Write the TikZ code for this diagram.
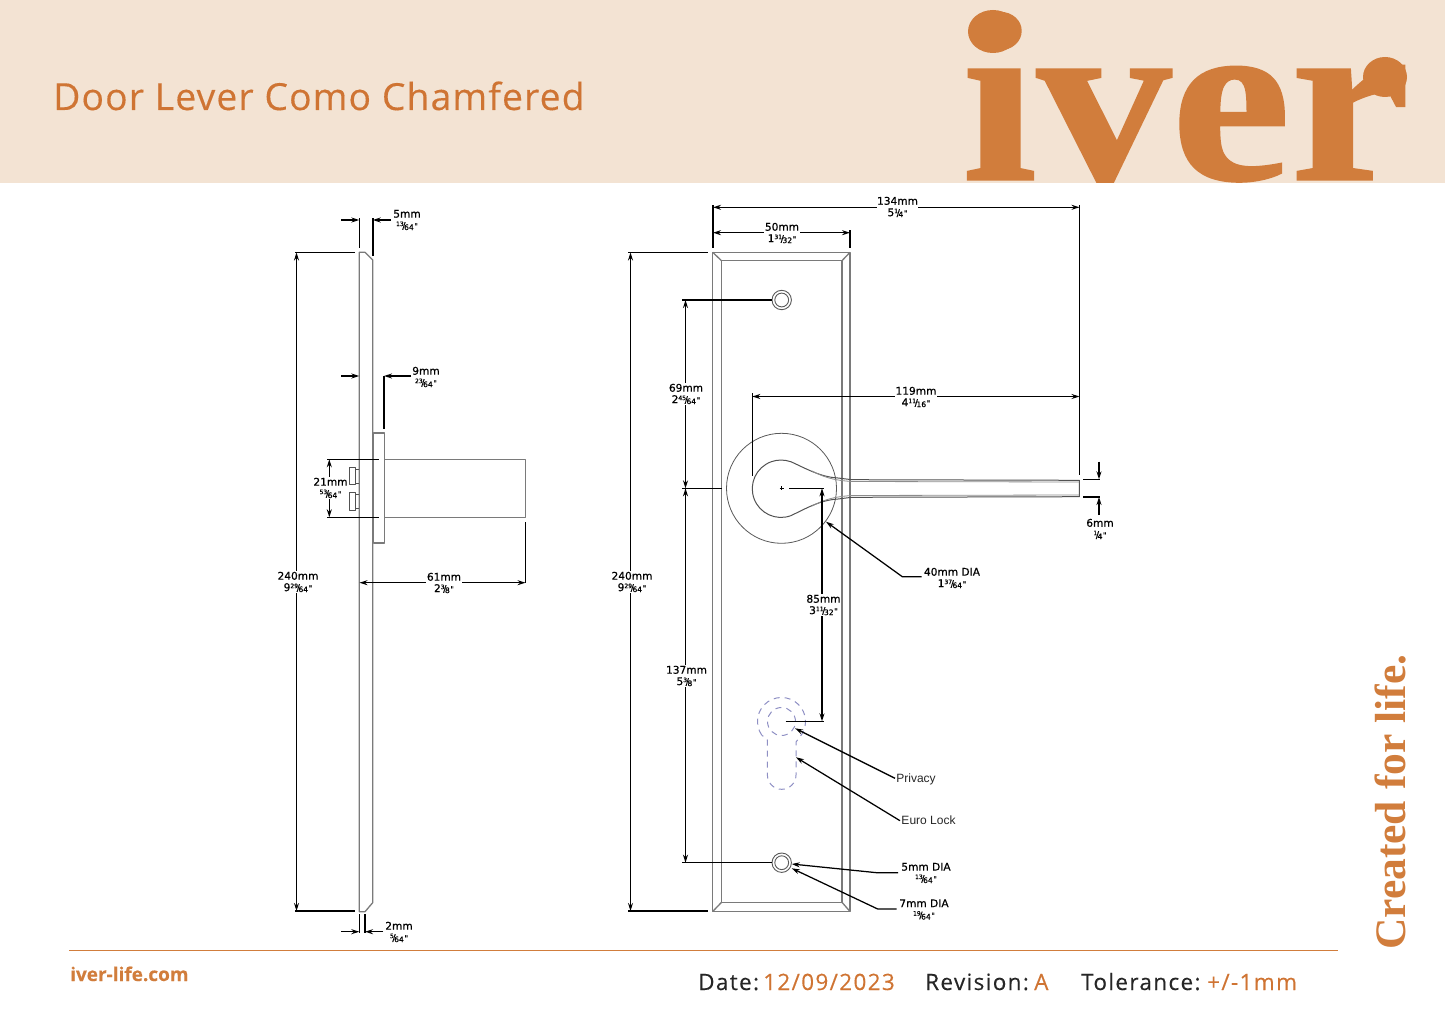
\documentclass[tikz,border=0pt]{standalone}
\usepackage{fontspec}
\usepackage{tikz}
\usetikzlibrary{arrows.meta}
\setmainfont{Open Sans}
\newfontfamily\dimf[FakeBold=0.7]{DejaVu Sans}
\newfontfamily\plainf{Liberation Sans}
\newfontfamily\logof[FakeBold=0.9]{Liberation Serif Bold}
\newfontfamily\tagf{Liberation Serif Bold}
\newfontfamily\titlef[LetterSpace=3,FakeBold=0.25]{Open Sans}
\newfontfamily\foot[LetterSpace=6,FakeBold=0.3]{Open Sans}
\newfontfamily\webf[FakeBold=0.3]{Open Sans Bold}
\definecolor{ivband}{HTML}{F3E3D3}
\definecolor{ivor}{HTML}{D17D3C}
\definecolor{ivtitle}{HTML}{CF7433}
\definecolor{euro}{HTML}{8F90C4}
\newcommand\fr[2]{\raisebox{3pt}{\fontsize{6}{6}\selectfont #1}\kern-1.4pt{\fontsize{9.5}{9.5}\selectfont/}\kern-1.4pt\raisebox{-1pt}{\fontsize{7.6}{7.6}\selectfont #2}}
\newcommand\inq{\kern.5pt{\fontsize{8}{8}\selectfont"}}
\tikzset{
  part/.style={draw=black!52,line width=1.3pt,line join=round},
  partdark/.style={draw=black!68,line width=1pt,line join=round},
  dimline/.style={draw=black,line width=1.25pt},
  dimarrow/.style={dimline,{Stealth[length=8pt,width=5pt]}-{Stealth[length=8pt,width=5pt]}},
  onearrow/.style={dimline,-{Stealth[length=8pt,width=5pt]}},
  extline/.style={draw=black,line width=1.25pt},
  lab/.style={font=\dimf\fontsize{10.6}{12.4}\selectfont,align=center,fill=white,inner sep=.5pt,text=black},
  labplain/.style={font=\plainf\fontsize{12}{14}\selectfont,inner sep=0pt,text=black!85},
  footk/.style={font=\foot\fontsize{22.5}{26}\selectfont,anchor=base west,inner sep=0pt,text=black!85},
  footv/.style={font=\foot\fontsize{22.5}{26}\selectfont,anchor=base west,inner sep=0pt,text=ivtitle},
}
\begin{document}
\begin{tikzpicture}[x=1pt,y=-1pt]
\useasboundingbox (0,0) rectangle (1445,1022);
% header
\fill[ivband] (0,0) rectangle (1445,183);
\node[anchor=base west,inner sep=0pt,text=ivtitle,font=\titlef\fontsize{37.3}{40}\selectfont] (title) at (53,110) {Door Lever Como Chamfered};
\node[anchor=base west,inner sep=0pt,text=ivor,font=\logof\fontsize{240}{240}\selectfont] (logo) at (962,179.5) {\scalebox{1.12}[1]{iver}};
\fill[ivor] (993,31.5) ellipse [x radius=25pt,y radius=21.5pt];
\fill[ivor] (1385,77) ellipse [x radius=22pt,y radius=20pt];
% side view
\draw[part] (359.3,252.3) -- (365,252.3) -- (372.7,260) -- (372.7,902.7) -- (365,911.7) -- (359.3,911.7) -- cycle;
\draw[part] (373.3,433) rectangle (384.3,543);
\draw[part] (384.3,459.3) -- (525.3,459.3) -- (525.3,517.3) -- (384.3,517.3);
\draw[partdark] (355.3,467.3) -- (349.3,467.3) -- (349.3,484.3) -- (355.3,484.3) -- cycle (355.3,469) -- (359.3,469) (355.3,483) -- (359.3,483);
\draw[partdark] (355.3,492.3) -- (349.3,492.3) -- (349.3,510) -- (355.3,510) -- cycle (355.3,494) -- (359.3,494) (355.3,508.5) -- (359.3,508.5);
% side dims
\coordinate (sa1) at (359.3,220); \coordinate (sa2) at (372.7,220);
\coordinate (sa1o) at (341,220); \coordinate (sa2o) at (391,220);
\draw[extline] (359.3,218) -- (359.3,248);
\draw[extline,line width=1.6pt] (372.7,218) -- (372.7,256);
\draw[onearrow] (sa1o) -- (sa1);
\draw[onearrow] (sa2o) -- (sa2);
\node[lab] (s5) at (407,220) {5mm\\[-1pt]\fr{13}{64}\inq};
\coordinate (sh1) at (296.5,252.5); \coordinate (sh2) at (296.5,911);
\draw[extline] (295,252.5) -- (355,252.5);
\draw[extline] (295,911) -- (355,911);
\draw[dimarrow] (sh1) -- (sh2);
\node[lab] (s240) at (298,582) {240mm\\[-1pt]9\fr{29}{64}\inq};
\coordinate (sb1) at (359.3,376); \coordinate (sb2) at (384,376);
\coordinate (sb1o) at (341,376); \coordinate (sb2o) at (411,376);
\draw[onearrow] (sb1o) -- (sb1);
\draw[extline] (384,376) -- (384,429);
\draw[onearrow] (sb2o) -- (sb2);
\node[lab] (s9) at (426,377) {9mm\\[-1pt]\fr{23}{64}\inq};
\coordinate (sc1) at (329.3,459.3); \coordinate (sc2) at (329.3,517.3);
\draw[extline] (327.3,459.3) -- (379,459.3);
\draw[extline] (327.3,517.3) -- (379,517.3);
\draw[dimarrow] (sc1) -- (sc2);
\node[lab] (s21) at (330.5,488) {21mm\\[-1pt]\fr{53}{64}\inq};
\coordinate (sd1) at (359.5,582.7); \coordinate (sd2) at (525.5,582.7);
\draw[extline] (525.5,522) -- (525.5,583);
\draw[dimarrow] (sd1) -- (sd2);
\node[lab] (s61) at (444,583) {61mm\\[-1pt]2\fr{3}{8}\inq};
\coordinate (se1) at (359.3,931.7); \coordinate (se2) at (365,931.7);
\coordinate (se1o) at (341,931.7); \coordinate (se2o) at (383,931.7);
\draw[extline] (359.3,914) -- (359.3,933);
\draw[extline] (365,914) -- (365,933);
\draw[onearrow] (se1o) -- (se1);
\draw[onearrow] (se2o) -- (se2);
\node[lab] (s2) at (399,932) {2mm\\[-1pt]\fr{5}{64}\inq};
% front view plate
\draw[part] (712.7,252.3) rectangle (850,911.5);
\draw[part] (721.5,260.7) rectangle (842,902.3);
\draw[part] (712.7,252.3) -- (721.5,260.7) (850,252.3) -- (842,260.7) (712.7,911.5) -- (721.5,902.3) (850,911.5) -- (842,902.3);
\node[draw=black!65,line width=.9pt,circle,minimum size=19.4pt,inner sep=0pt] (st) at (781.7,300) {};
\node[draw=black!65,line width=.9pt,circle,minimum size=13.8pt,inner sep=0pt] (sti) at (781.7,300) {};
\node[draw=black!65,line width=.9pt,circle,minimum size=19.4pt,inner sep=0pt] (sb) at (781.7,862.7) {};
\node[draw=black!65,line width=.9pt,circle,minimum size=13.8pt,inner sep=0pt] (sbi) at (781.7,862.7) {};
\node[draw=black!65,line width=.8pt,circle,minimum size=110pt,inner sep=0pt] (rose) at (781.5,488.3) {};
% lever
\draw[partdark] (790.8,461.7) .. controls (805,468) and (820,477) .. (838,478) -- (851.7,479.7) -- (1079.3,480.3) -- (1079.3,496.7) -- (851.7,497.3) -- (838,499) .. controls (820,500) and (805,509) .. (790.8,515.7) arc[start angle=290,end angle=70,radius=28.7pt];
\draw[draw=black!45,line width=.8pt] (812,471) .. controls (822,476) and (830,480) .. (851.7,481.5) -- (1079.3,482);
\draw[draw=black!45,line width=.8pt] (812,506) .. controls (822,501) and (830,497) .. (851.7,495.5) -- (1079.3,495);
\draw[black,line width=.5pt] (779.5,488.3) -- (783.5,488.3) (781.5,486.3) -- (781.5,490.3);
% euro outline
\draw[euro,line width=1pt,dash pattern=on 6pt off 5pt] (781.5,721.5) circle[radius=14pt];
\draw[euro,line width=1pt,dash pattern=on 6pt off 5pt] (761.6,734.9) arc[start angle=214,end angle=-40,radius=24pt] -- (796,742) -- (796,775) arc[start angle=0,end angle=-180,radius=14.3pt] -- (767.3,740) -- cycle;
% front dims
\coordinate (fa1) at (713,207.3); \coordinate (fa2) at (1079.5,207.3);
\draw[extline] (713,205) -- (713,248);
\draw[extline] (1079.5,205) -- (1079.5,475);
\draw[dimarrow] (fa1) -- (fa2);
\node[lab] (f134) at (897.5,207) {134mm\\[-1pt]5\fr{1}{4}\inq};
\coordinate (fb1) at (713,232.7); \coordinate (fb2) at (850,232.7);
\draw[extline] (850,230) -- (850,248);
\draw[dimarrow] (fb1) -- (fb2);
\node[lab] (f50) at (782,233) {50mm\\[-1pt]1\fr{31}{32}\inq};
\coordinate (fc1) at (630.5,252.5); \coordinate (fc2) at (630.5,911);
\draw[extline] (628,252.5) -- (708,252.5);
\draw[extline] (628,911) -- (708,911);
\draw[dimarrow] (fc1) -- (fc2);
\node[lab] (f240) at (632,582) {240mm\\[-1pt]9\fr{29}{64}\inq};
\coordinate (fd1) at (685.5,300); \coordinate (fd2) at (685.5,488.3); \coordinate (fd3) at (685.5,862.7);
\draw[extline] (682,300) -- (772,300);
\draw[extline] (682,488.3) -- (722,488.3);
\draw[extline] (682,862.7) -- (772,862.7);
\draw[dimarrow] (fd1) -- (fd2);
\draw[dimarrow] (fd2) -- (fd3);
\node[lab] (f69) at (686,394) {69mm\\[-1pt]2\fr{45}{64}\inq};
\node[lab] (f137) at (686.5,676) {137mm\\[-1pt]5\fr{3}{8}\inq};
\coordinate (fe1) at (752.3,396.5); \coordinate (fe2) at (1079.5,396.5);
\draw[extline] (752.3,393) -- (752.3,476);
\draw[dimarrow] (fe1) -- (fe2);
\node[lab] (f119) at (916,397) {119mm\\[-1pt]4\fr{11}{16}\inq};
\coordinate (ff1) at (822,488.3); \coordinate (ff2) at (822,721.3);
\draw[extline] (789,488.3) -- (824,488.3);
\draw[extline] (785.7,721.3) -- (824,721.3);
\draw[dimarrow] (ff1) -- (ff2);
\node[lab] (f85) at (823.5,605) {85mm\\[-1pt]3\fr{11}{32}\inq};
\coordinate (g1) at (1099,461.7); \coordinate (g2) at (1099,479.3);
\coordinate (g3) at (1099,515); \coordinate (g4) at (1099,497);
\draw[extline] (1083,479.3) -- (1100,479.3);
\draw[extline] (1083,497) -- (1100,497);
\draw[onearrow] (g1) -- (g2);
\draw[onearrow] (g3) -- (g4);
\node[lab] (f6) at (1100,529) {6mm\\[-1pt]\fr{1}{4}\inq};
% leaders
\node[lab] (l40) at (952,578) {40mm DIA\\[-1pt]1\fr{37}{64}\inq};
\coordinate (l40c) at (902.3,576.7); \coordinate (l40e) at (921.7,576.7); \coordinate (l40t) at (826,521.7);
\draw[onearrow] (l40e) -- (l40c) -- (l40t);
\node[labplain] (lp) at (916,779.5) {Privacy};
\coordinate (lpe) at (895,778.3); \coordinate (lpt) at (795,728.3);
\draw[onearrow] (lpe) -- (lpt);
\node[labplain] (le) at (928.5,820.5) {Euro Lock};
\coordinate (lee) at (900,820.7); \coordinate (let) at (796,757.3);
\draw[onearrow] (lee) -- (let);
\node[lab] (l5) at (926,873) {5mm DIA\\[-1pt]\fr{13}{64}\inq};
\coordinate (l5e) at (898,872.7); \coordinate (l5c) at (876.7,872.7); \coordinate (l5t) at (791.7,864);
\draw[onearrow] (l5e) -- (l5c) -- (l5t);
\node[lab] (l7) at (924,909.5) {7mm DIA\\[-1pt]\fr{19}{64}\inq};
\coordinate (l7e) at (896.7,909); \coordinate (l7c) at (877.7,909); \coordinate (l7t) at (791.7,868.3);
\draw[onearrow] (l7e) -- (l7c) -- (l7t);
% footer
\coordinate (fl1) at (69,950); \coordinate (fl2) at (1338,950);
\draw[ivor,line width=.9pt] (fl1) -- (fl2);
\node[anchor=base west,inner sep=0pt,text=ivor,font=\webf\fontsize{19}{22}\selectfont] (web) at (70,981) {iver-life.com};
\node[footk] (fdk) at (698,990) {Date:};
\node[footv] (fdv) at (763,990) {12/09/2023};
\node[footk] (frk) at (925,990) {Revision:};
\node[footv] (frv) at (1034,990) {A};
\node[footk] (ftk) at (1081,990) {Tolerance:};
\node[footv] (ftv) at (1207,990) {+/-1mm};
\node[rotate=90,anchor=base west,inner sep=0pt,text=ivor,font=\tagf\fontsize{43.5}{48}\selectfont] (tag) at (1405,950) {Created for life.};
\end{tikzpicture}
\end{document}
